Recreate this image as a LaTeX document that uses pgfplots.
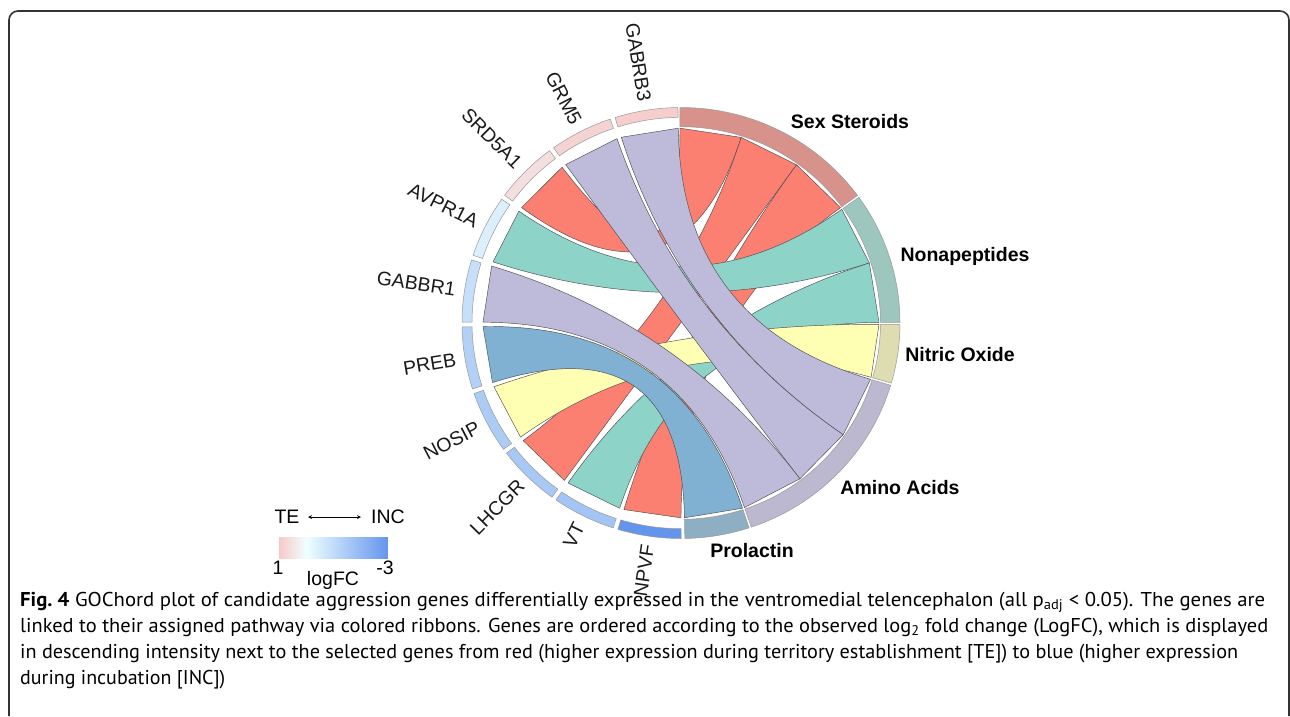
\documentclass[border=0pt]{standalone}
\usepackage{pgfplots}
\pgfplotsset{compat=1.18}
\usepackage{pgfplotstable}
\usepackage{graphicx}
\usepackage{fontspec}
\setmainfont{Liberation Sans}
\newfontfamily\capfont{PT Sans}

\definecolor{ribRed}{HTML}{FB8072}
\definecolor{ribTeal}{HTML}{8DD3C7}
\definecolor{ribYel}{HTML}{FFFFB3}
\definecolor{ribLav}{HTML}{BEBADA}
\definecolor{ribBlue}{HTML}{80B1D3}
\definecolor{ringSex}{HTML}{D8928C}
\definecolor{ringNona}{HTML}{9DC6BF}
\definecolor{ringNO}{HTML}{DEDDB1}
\definecolor{ringAA}{HTML}{BBB8D0}
\definecolor{ringPro}{HTML}{8EAEC3}
\definecolor{lfcHi}{RGB}{248,200,200}
\definecolor{lfcMid}{RGB}{240,255,255}
\definecolor{lfcLo}{RGB}{100,149,237}

\begin{document}
% genes: logFC and angular span (degrees, counter-clockwise)
\pgfplotstableread{
gene   lfc   a1     a2
GABRB3 0.9   90.80  107.55
GRM5   0.8   108.85 125.60
SRD5A1 0.6   126.90 143.65
AVPR1A -0.45 144.95 161.70
GABBR1 -0.9  163.00 179.75
PREB   -1.3  181.05 197.80
NOSIP  -1.45 199.10 215.85
LHCGR  -1.55 217.15 233.90
VT     -1.65 235.20 251.95
NPVF   -3.0  253.25 270.00
}\genes
% ribbons: gene span (g1,g2) -> pathway slot (p1 top, p2 bottom)
\pgfplotstableread{
g1     g2     p1    p2    col
126.90 143.65 90.3  72.3  ribRed
217.15 233.90 72.3  54.3  ribRed
253.25 270.00 54.3  36.3  ribRed
144.95 161.70 35.7  17.95 ribTeal
235.20 251.95 17.95 0.2   ribTeal
199.10 215.85 -0.4  -16.2 ribYel
181.05 197.80 -71.9 -89.0 ribBlue
90.80  107.55 -16.8 -35.0 ribLav
108.85 125.60 -35.0 -53.1 ribLav
163.00 179.75 -53.1 -71.3 ribLav
}\ribbons
\pgfplotstableread[col sep=comma]{
name,a1,a2,col,lx,ly
Sex Steroids,36.3,90.3,ringSex,850,122
Nonapeptides,0.2,35.7,ringNona,965,256
Nitric Oxide,-16.2,-0.4,ringNO,960,355
Amino Acids,-71.3,-16.8,ringAA,900,488
Prolactin,-89.0,-71.9,ringPro,752,551
}\paths

\begin{tikzpicture}
\begin{axis}[
  width=1290pt, height=716pt, scale only axis,
  xmin=0, xmax=1290, ymin=0, ymax=716, y dir=reverse,
  axis lines=none, clip=false,
]
\pgfplotsextra{
  \coordinate (C) at (axis cs:681,323);
  \begin{scope}[shift={(C)}, yscale=0.984]
    % ribbons
    \foreach \i in {0,...,9}{
      \pgfplotstablegetelem{\i}{g1}\of\ribbons \let\ga\pgfplotsretval
      \pgfplotstablegetelem{\i}{g2}\of\ribbons \let\gb\pgfplotsretval
      \pgfplotstablegetelem{\i}{p1}\of\ribbons \let\pa\pgfplotsretval
      \pgfplotstablegetelem{\i}{p2}\of\ribbons \let\pb\pgfplotsretval
      \pgfplotstablegetelem{\i}{col}\of\ribbons \let\rcol\pgfplotsretval
      \filldraw[fill=\rcol, draw=black!70, line width=0.45pt, line join=round]
        (\ga:198pt) -- (\gb:198pt)
        .. controls (\gb:66pt) and (\pb:66pt) .. (\pb:198pt)
        -- (\pa:198pt)
        .. controls (\pa:66pt) and (\ga:66pt) .. cycle;
    }
    % gene ring and labels
    \foreach \i in {0,...,9}{
      \pgfplotstablegetelem{\i}{gene}\of\genes \let\gname\pgfplotsretval
      \pgfplotstablegetelem{\i}{lfc}\of\genes \let\lfc\pgfplotsretval
      \pgfplotstablegetelem{\i}{a1}\of\genes \let\ga\pgfplotsretval
      \pgfplotstablegetelem{\i}{a2}\of\genes \let\gb\pgfplotsretval
      \pgfmathsetmacro\am{(\ga+\gb)/2}
      \pgfmathsetmacro\rot{\am+180}
      \pgfmathtruncatemacro\pos{\lfc>0}
      \ifnum\pos=1
        \pgfmathsetmacro\pp{\lfc*100}
        \colorlet{gcol}{lfcHi!\pp!lfcMid}
      \else
        \pgfmathsetmacro\pp{-\lfc/3*100}
        \colorlet{gcol}{lfcLo!\pp!lfcMid}
      \fi
      \filldraw[fill=gcol, draw=black!40, line width=0.5pt]
        (\ga:219pt) arc[start angle=\ga, end angle=\gb, radius=219pt]
        -- (\gb:209pt) arc[start angle=\gb, end angle=\ga, radius=209pt] -- cycle;
      \node[anchor=east, rotate=\rot, inner sep=0pt,
            font=\fontsize{19.5}{20}\selectfont, text=black!90]
        at (\am:228pt) {\gname};
    }
    % pathway ring
    \foreach \i in {0,...,4}{
      \pgfplotstablegetelem{\i}{a1}\of\paths \let\pa\pgfplotsretval
      \pgfplotstablegetelem{\i}{a2}\of\paths \let\pb\pgfplotsretval
      \pgfplotstablegetelem{\i}{col}\of\paths \let\pcol\pgfplotsretval
      \filldraw[fill=\pcol, draw=black!40, line width=0.5pt]
        (\pa:219pt) arc[start angle=\pa, end angle=\pb, radius=219pt]
        -- (\pb:199.5pt) arc[start angle=\pb, end angle=\pa, radius=199.5pt] -- cycle;
    }
  \end{scope}
  % pathway labels
  \foreach \i in {0,...,4}{
    \pgfplotstablegetelem{\i}{name}\of\paths \let\pname\pgfplotsretval
    \pgfplotstablegetelem{\i}{lx}\of\paths \let\lx\pgfplotsretval
    \pgfplotstablegetelem{\i}{ly}\of\paths \let\ly\pgfplotsretval
    \node[font=\fontsize{19.5}{20}\selectfont\bfseries, inner sep=0pt]
      at (axis cs:\lx,\ly) {\pname};
  }
  % legend
  \node[font=\fontsize{19.5}{20}\selectfont, inner sep=0pt] at (axis cs:287,517) {TE};
  \node[font=\fontsize{19.5}{20}\selectfont, inner sep=0pt] at (axis cs:388,517) {INC};
  \draw[<->, >=stealth, line width=0.8pt] (axis cs:308,517) -- (axis cs:361,517);
  \node[font=\fontsize{19.5}{20}\selectfont, inner sep=0pt] at (axis cs:278,568) {1};
  \node[font=\fontsize{19.5}{20}\selectfont, inner sep=0pt] at (axis cs:385,568) {-3};
  \node[font=\fontsize{19.5}{20}\selectfont, inner sep=0pt] at (axis cs:333,580) {logFC};
  % frame
  \draw[line width=1.6pt, black!80, rounded corners=9pt]
    (axis cs:9,716) -- (axis cs:9,11) -- (axis cs:1289,11) -- (axis cs:1289,716);
  % caption
  \node[anchor=base west, inner sep=0pt, font=\fontsize{20}{22}\capfont] at (axis cs:20,606)
    {\resizebox{1245pt}{\height}{{\bfseries Fig.~4} GOChord plot of candidate aggression genes differentially expressed in the ventromedial telencephalon (all p\textsubscript{adj} < 0.05). The genes are}};
  \node[anchor=base west, inner sep=0pt, font=\fontsize{20}{22}\capfont] at (axis cs:20,632)
    {\resizebox{1248pt}{\height}{linked to their assigned pathway via colored ribbons. Genes are ordered according to the observed log\textsubscript{2} fold change (LogFC), which is displayed}};
  \node[anchor=base west, inner sep=0pt, font=\fontsize{20}{22}\capfont] at (axis cs:20,658)
    {\resizebox{1218pt}{\height}{in descending intensity next to the selected genes from red (higher expression during territory establishment [TE]) to blue (higher expression}};
  \node[anchor=base west, inner sep=0pt, font=\fontsize{20}{22}\capfont] at (axis cs:20,684)
    {during incubation [INC])};
}
\end{axis}
% colour bar of logFC
\begin{axis}[
  at={(279pt,158pt)}, anchor=south west, scale only axis,
  width=109pt, height=21pt, hide axis, view={0}{90},
  xmin=-3, xmax=1, x dir=reverse, ymin=0, ymax=1,
  colormap={lfc}{rgb255(0cm)=(100,149,237) rgb255(3cm)=(240,255,255) rgb255(4cm)=(248,200,200)},
  point meta min=-3, point meta max=1,
]
\addplot3[surf, shader=interp, point meta=x] coordinates {
(-3,0,0) (0,0,0) (1,0,0)

(-3,1,0) (0,1,0) (1,1,0)
};
\end{axis}
\pgfresetboundingbox
\useasboundingbox (0,0) rectangle (1290pt,716pt);
\end{tikzpicture}
\end{document}
